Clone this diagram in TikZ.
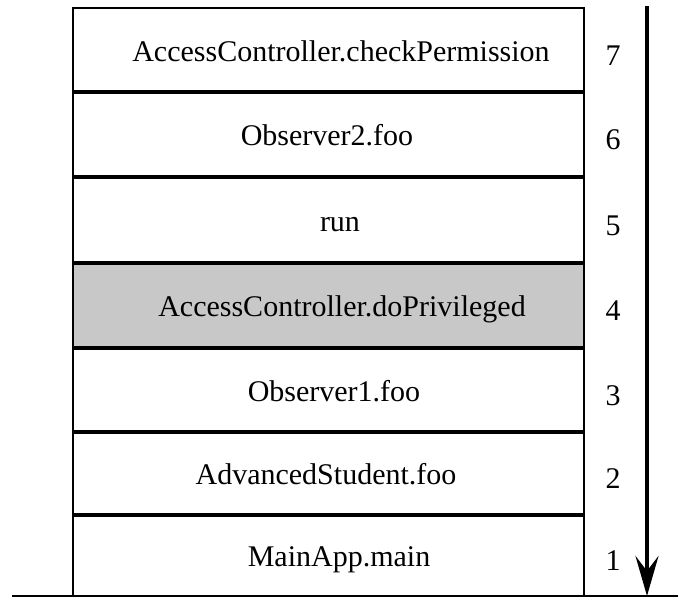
\documentclass[tikz,border=0pt]{standalone}
\usepackage{fontspec}
\setmainfont{Liberation Serif}
\usepackage{tikz}
\usetikzlibrary{arrows.meta}
\usetikzlibrary{calc}
\definecolor{stackgray}{RGB}{200,200,200}
\tikzstyle{row} = [rectangle, minimum width = 511pt, inner sep=0pt, outer sep=0pt]
\tikzstyle{lbl} = [anchor=base, inner sep=0pt, font=\fontsize{30}{36}\selectfont]
\tikzstyle{frame} = [line width=2.8pt, line cap=rect]
\tikzstyle{divider} = [line width=4.6pt]
\tikzstyle{flow} = [line width=4pt, -{Stealth[length=40pt, width=23pt, inset=15pt]}]

\begin{document}
\begin{tikzpicture}[x=1pt, y=-1pt]
	\useasboundingbox (0,0) rectangle (678,597);
	% stack frames, top (7) to bottom (1)
	\foreach \i/\cy/\h/\dx/\txt in {7/50/84/12.5/AccessController.checkPermission,
		6/134.75/85.5/-1.5/Observer2.foo,
		5/220/86/11.5/run,
		4/305.5/85/13.5/AccessController.doPrivileged,
		3/390/84/5.5/Observer1.foo,
		2/473.5/83/-2.5/AdvancedStudent.foo,
		1/555.5/81/10.5/MainApp.main}{
		\node (r\i) [row, minimum height=\h pt] at (328.5,\cy) {};
	}
	\fill [stackgray] (r4.north west) rectangle (r4.south east);
	\draw [frame] (r1.south west) |- (r7.north east) -- (r1.south east);
	\foreach \i in {1,...,6}
		\draw [divider] (r\i.north west) -- (r\i.north east);
	\foreach \i/\dx/\txt in {7/12.5/AccessController.checkPermission,
		6/-1.5/Observer2.foo,
		5/11.5/run,
		4/13.5/AccessController.doPrivileged,
		3/5.5/Observer1.foo,
		2/-2.5/AdvancedStudent.foo,
		1/10.5/MainApp.main}{
		\node (t\i) [lbl] at ($(r\i.center)+(\dx,11)$) {\txt};
		\node (n\i) [lbl] at ($(r\i.center)+(284.5,15)$) {\i};
	}
	\coordinate (bl) at (12,596);
	\coordinate (br) at (678,596);
	\draw [line width=1.3pt] (bl) -- (br);
	\coordinate (ftop) at (647,6);
	\coordinate (fbot) at (647,596);
	\draw [flow] (ftop) -- (fbot);
\end{tikzpicture}
\end{document}
